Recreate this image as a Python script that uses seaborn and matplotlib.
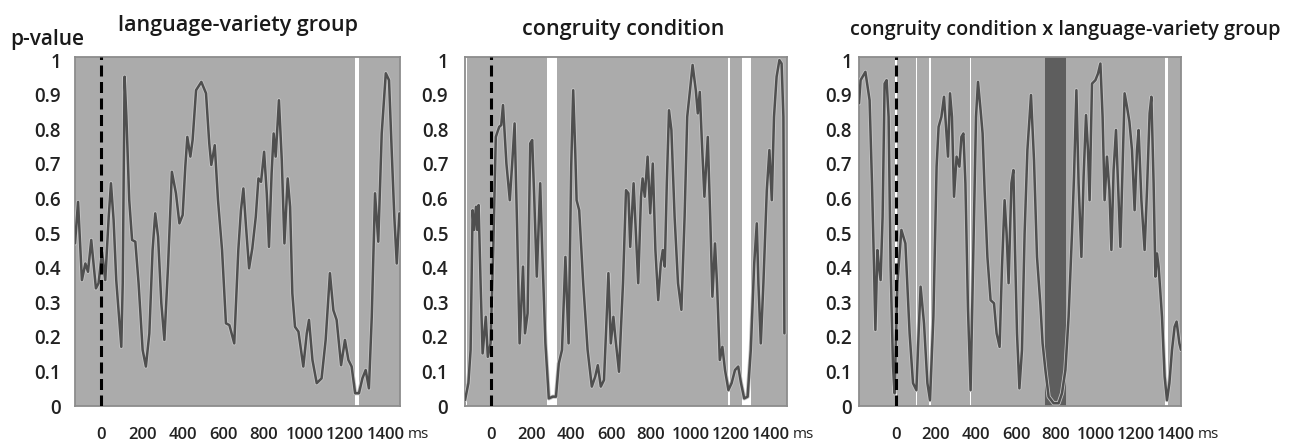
import matplotlib
matplotlib.use("Agg")
import matplotlib.pyplot as plt
import matplotlib.patheffects as pe
import seaborn as sns
import pandas as pd

# p-value time courses (time in ms, p-value)
lang_ms = [-130, -115, -96, -79, -66, -50, -27, -14, 3, 19, 36, 47, 60, 73, 98, 105, 114, 123, 137, 151,
           167, 183, 203, 219, 236, 252, 265, 279, 295, 310, 328, 347, 367, 384, 400, 413, 423, 438, 449, 466,
           492, 515, 531, 541, 558, 574, 594, 613, 630, 654, 674, 687, 699, 712, 727, 743, 760, 773, 786, 801,
           814, 825, 838, 848, 858, 874, 888, 901, 917, 929, 940, 953, 970, 994, 1011, 1022, 1039, 1060, 1084, 1104,
           1125, 1142, 1158, 1180, 1199, 1216, 1232, 1249, 1268, 1285, 1301, 1317, 1331, 1347, 1363, 1380, 1400, 1416, 1429, 1442,
           1454, 1467]
lang_p = [0.47, 0.59, 0.364, 0.412, 0.388, 0.48, 0.34, 0.355, 0.446, 0.364, 0.547, 0.644, 0.538, 0.364, 0.171, 0.355, 0.952, 0.836, 0.595, 0.48,
          0.475, 0.355, 0.162, 0.114, 0.21, 0.451, 0.557, 0.489, 0.297, 0.191, 0.403, 0.677, 0.615, 0.528, 0.552, 0.692, 0.778, 0.721, 0.769, 0.913,
          0.937, 0.904, 0.759, 0.697, 0.754, 0.595, 0.451, 0.239, 0.234, 0.181, 0.451, 0.566, 0.629, 0.518, 0.398, 0.456, 0.547, 0.658, 0.648, 0.735,
          0.615, 0.46, 0.673, 0.788, 0.721, 0.884, 0.711, 0.47, 0.658, 0.576, 0.326, 0.229, 0.215, 0.114, 0.21, 0.249, 0.133, 0.066, 0.08, 0.191,
          0.384, 0.277, 0.249, 0.118, 0.191, 0.133, 0.114, 0.037, 0.037, 0.08, 0.104, 0.051, 0.258, 0.615, 0.475, 0.788, 0.962, 0.942, 0.74, 0.547,
          0.412, 0.557]

cong_ms = [-130, -113, -102, -92, -85, -75, -69, -62, -52, -42, -26, -16, -2, 11, 24, 41, 51, 60, 77, 94,
           107, 118, 130, 143, 160, 170, 183, 196, 206, 216, 229, 246, 256, 272, 289, 309, 325, 339, 355, 372,
           388, 401, 411, 421, 428, 441, 461, 483, 504, 521, 534, 549, 565, 577, 587, 599, 612, 623, 640, 660,
           675, 687, 696, 713, 726, 736, 750, 758, 769, 783, 796, 809, 822, 836, 849, 859, 869, 879, 890, 902,
           918, 935, 952, 968, 981, 995, 1008, 1024, 1034, 1044, 1054, 1067, 1084, 1097, 1107, 1120, 1130, 1144, 1157, 1170,
           1187, 1203, 1220, 1236, 1250, 1266, 1283, 1299, 1316, 1329, 1337, 1349, 1362, 1379, 1392, 1404, 1415, 1428, 1442, 1453,
           1462, 1467]
cong_p = [0.017, 0.066, 0.162, 0.566, 0.509, 0.576, 0.509, 0.581, 0.355, 0.152, 0.258, 0.142, 0.181, 0.451, 0.778, 0.807, 0.812, 0.87, 0.701, 0.595,
          0.711, 0.817, 0.528, 0.181, 0.403, 0.21, 0.268, 0.759, 0.769, 0.605, 0.374, 0.644, 0.451, 0.181, 0.022, 0.027, 0.027, 0.123, 0.162, 0.431,
          0.181, 0.692, 0.913, 0.74, 0.595, 0.566, 0.355, 0.162, 0.056, 0.085, 0.118, 0.056, 0.075, 0.239, 0.384, 0.181, 0.258, 0.191, 0.099, 0.355,
          0.624, 0.615, 0.46, 0.644, 0.48, 0.355, 0.605, 0.658, 0.605, 0.721, 0.557, 0.701, 0.451, 0.306, 0.412, 0.451, 0.403, 0.644, 0.855, 0.798,
          0.547, 0.355, 0.278, 0.547, 0.836, 0.913, 0.986, 0.913, 0.846, 0.908, 0.769, 0.605, 0.778, 0.528, 0.316, 0.47, 0.355, 0.133, 0.171, 0.104,
          0.046, 0.066, 0.104, 0.114, 0.066, 0.022, 0.027, 0.162, 0.412, 0.528, 0.355, 0.181, 0.355, 0.624, 0.74, 0.595, 0.836, 0.952, 1.0, 0.99,
          0.836, 0.21]

inter_ms = [-185, -177, -153, -132, -120, -110, -103, -93, -87, -77, -67, -57, -47, -37, -27, -15, -7, 7, 27, 47,
            68, 85, 102, 113, 123, 140, 157, 170, 187, 203, 213, 227, 240, 250, 260, 270, 280, 290, 303, 317,
            327, 337, 347, 360, 373, 387, 400, 410, 423, 433, 443, 457, 473, 490, 503, 518, 530, 543, 553, 563,
            577, 587, 595, 605, 617, 630, 643, 657, 675, 690, 705, 722, 733, 747, 763, 788, 813, 830, 847, 863,
            880, 890, 902, 913, 927, 938, 950, 960, 968, 980, 997, 1010, 1022, 1033, 1043, 1055, 1067, 1077, 1088, 1100,
            1110, 1122, 1133, 1143, 1155, 1167, 1180, 1193, 1205, 1213, 1227, 1243, 1255, 1268, 1277, 1288, 1297, 1305, 1313, 1330,
            1343, 1355, 1367, 1380, 1393, 1403, 1417, 1425]
inter_p = [0.875, 0.942, 0.966, 0.884, 0.644, 0.403, 0.22, 0.451, 0.412, 0.364, 0.547, 0.932, 0.942, 0.836, 0.403, 0.114, 0.037, 0.355, 0.509, 0.47,
           0.21, 0.066, 0.046, 0.21, 0.345, 0.239, 0.066, 0.017, 0.258, 0.692, 0.807, 0.836, 0.894, 0.807, 0.721, 0.904, 0.836, 0.605, 0.721, 0.692,
           0.778, 0.788, 0.644, 0.278, 0.046, 0.451, 0.836, 0.937, 0.855, 0.788, 0.624, 0.431, 0.306, 0.297, 0.21, 0.171, 0.403, 0.595, 0.499, 0.355,
           0.644, 0.682, 0.451, 0.21, 0.051, 0.162, 0.499, 0.74, 0.899, 0.711, 0.431, 0.292, 0.181, 0.104, 0.027, 0.008, 0.008, 0.037, 0.104, 0.258,
           0.499, 0.663, 0.913, 0.644, 0.431, 0.663, 0.841, 0.74, 0.595, 0.932, 0.942, 0.961, 0.99, 0.836, 0.595, 0.721, 0.624, 0.451, 0.682, 0.798,
           0.644, 0.46, 0.692, 0.904, 0.865, 0.822, 0.74, 0.566, 0.74, 0.798, 0.595, 0.451, 0.624, 0.846, 0.894, 0.644, 0.374, 0.441, 0.403, 0.258,
           0.085, 0.017, 0.066, 0.162, 0.229, 0.244, 0.181, 0.162]

# highlighted time windows (ms)
lang_white = [(1250, 1268)]
cong_white = [(-130, -122), (282, 328), (1183, 1195), (1256, 1300)]
inter_white = [(-4, 4), (98, 106), (165, 177), (369, 377), (1346, 1360)]
inter_dark = [(745, 848)]

titles = ["language-variety group", "congruity condition", "congruity condition x language-variety group"]
x_ticks = [0, 200, 400, 600, 800, 1000, 1200, 1400]
y_ticks = [0, 0.1, 0.2, 0.3, 0.4, 0.5, 0.6, 0.7, 0.8, 0.9, 1]
y_labels = ["0", "0.1", "0.2", "0.3", "0.4", "0.5", "0.6", "0.7", "0.8", "0.9", "1"]

sns.set_theme(style="white")
plt.rcParams["font.family"] = ["Open Sans", "DejaVu Sans"]

fig = plt.figure(figsize=(12.97, 4.44), dpi=100)
W, H = 1297, 444
panels = [
    dict(ms=lang_ms, p=lang_p, white=lang_white, dark=[], left=75, width=325, xlim=(-130, 1470), ypad=10,
         title=titles[0], tx=0.5, tsize=15.5, tpad=19),
    dict(ms=cong_ms, p=cong_p, white=cong_white, dark=[], left=465, width=322, xlim=(-130, 1480), ypad=12,
         title=titles[1], tx=0.49, tsize=15.5, tpad=16),
    dict(ms=inter_ms, p=inter_p, white=inter_white, dark=inter_dark, left=859, width=322, xlim=(-185, 1425), ypad=5,
         title=titles[2], tx=0.64, tsize=14.3, tpad=16),
]

top, bottom = 57, 406
for cfg in panels:
    ax = fig.add_axes([cfg["left"] / W, 1 - bottom / H, cfg["width"] / W, (bottom - top) / H])
    ax.set_facecolor("#ababab")
    for a, b in cfg["white"]:
        ax.axvspan(a, b, color="white", lw=0, zorder=1)
    for a, b in cfg["dark"]:
        ax.axvspan(a, b, color="#5e5e5e", lw=0, zorder=1)

    df = pd.DataFrame({"ms": cfg["ms"], "p": cfg["p"]})
    sns.lineplot(data=df, x="ms", y="p", ax=ax, color="#4f4f4f", lw=1.8, estimator=None, sort=False, zorder=3)
    ax.lines[-1].set_path_effects([pe.Stroke(linewidth=3.0, foreground="#c4c4c4"), pe.Normal()])

    ax.axvline(0, color="black", lw=2.2, dashes=(3.6, 1.8), zorder=4)

    ax.set_xlim(*cfg["xlim"])
    ax.set_ylim(0, 1.009)
    ax.set_xticks(x_ticks)
    ax.set_xticklabels([str(t) for t in x_ticks])
    ax.set_yticks(y_ticks)
    ax.set_yticklabels(y_labels)
    ax.tick_params(axis="x", length=0, pad=15, labelsize=12, labelcolor="#222222")
    ax.tick_params(axis="y", length=0, pad=cfg["ypad"], labelsize=13.5, labelcolor="#222222")
    for lab in ax.get_xticklabels() + ax.get_yticklabels():
        lab.set_fontweight("semibold")
    ax.set_xlabel("")
    ax.set_ylabel("")
    for s in ax.spines.values():
        s.set_color("#8c8c8c")
        s.set_linewidth(1.3)
    ax.annotate("ms", xy=(1400, 0), xycoords=("data", "axes fraction"), xytext=(16, -23),
                textcoords="offset points", ha="left", va="baseline", fontsize=11, color="#222222")
    ax.set_title(cfg["title"], x=cfg["tx"], pad=cfg["tpad"], fontsize=cfg["tsize"], fontweight="semibold",
                 color="#1a1a1a")

fig.text(10 / W, 1 - 45 / H, "p-value", ha="left", va="baseline", fontsize=15, fontweight="semibold", color="#1a1a1a")

fig.savefig("out.png", dpi=100, facecolor="white")
